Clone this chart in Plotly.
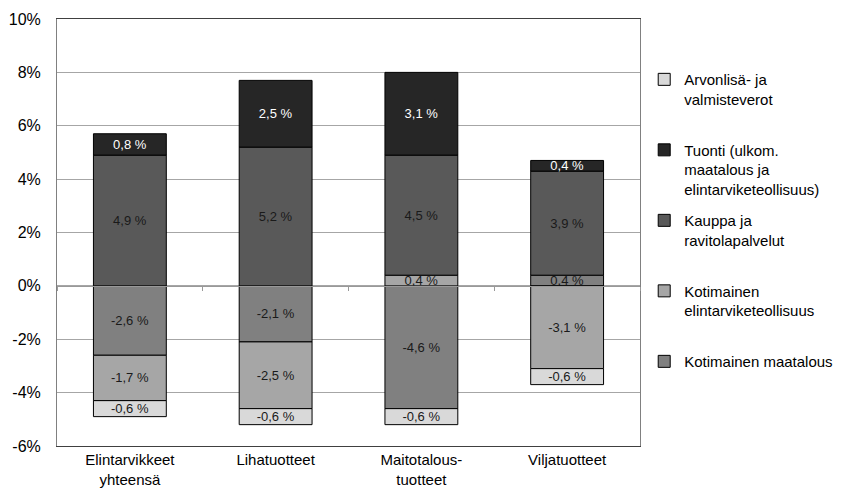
import plotly.graph_objects as go

categories = ["Elintarvikkeet<br>yhteensä", "Lihatuotteet", "Maitotalous-<br>tuotteet", "Viljatuotteet"]

# contribution to the price change, %
maatalous = [-2.6, -2.1, -4.6, 0.4]
teollisuus = [-1.7, -2.5, 0.4, -3.1]
kauppa = [4.9, 5.2, 4.5, 3.9]
tuonti = [0.8, 2.5, 3.1, 0.4]
verot = [-0.6, -0.6, -0.6, -0.6]

y_ticks = [-6, -4, -2, 0, 2, 4, 6, 8, 10]

FONT = "Arial, Liberation Sans, sans-serif"
PAD = "<br> "

# stacking order bottom-up; legend shown top-down in reverse
series = [
    ("Kotimainen maatalous", maatalous, "#808080", "#1a1a1a"),
    ("Kotimainen<br>elintarviketeollisuus" + PAD, teollisuus, "#a6a6a6", "#1a1a1a"),
    ("Kauppa ja<br>ravitolapalvelut" + PAD, kauppa, "#595959", "#1a1a1a"),
    ("Tuonti (ulkom.<br>maatalous ja<br>elintarviketeollisuus)", tuonti, "#262626", "#ffffff"),
    ("Arvonlisä- ja<br>valmisteverot" + PAD, verot, "#d9d9d9", "#1a1a1a"),
]


def fmt(v):
    return f"{v:.1f} %".replace(".", ",")


fig = go.Figure()
for i, (name, vals, color, tcolor) in enumerate(series):
    fig.add_trace(
        go.Bar(
            x=categories,
            y=vals,
            name=name,
            legendgroup=str(i),
            legendrank=len(series) - i,
            marker=dict(color=color, line=dict(color="#000000", width=1)),
            text=[fmt(v) for v in vals],
            textposition="inside",
            insidetextanchor="middle",
            textfont=dict(color=tcolor, size=13, family=FONT),
            hovertemplate="%{x}: %{text}<extra></extra>",
        )
    )

# zero axis with tick marks between categories
fig.add_trace(
    go.Scatter(
        x=categories,
        y=[0] * len(categories),
        xaxis="x2",
        mode="markers",
        marker=dict(opacity=0),
        showlegend=False,
        hoverinfo="skip",
    )
)

fig.update_layout(
    width=851,
    height=493,
    barmode="relative",
    bargap=0.5,
    plot_bgcolor="white",
    paper_bgcolor="white",
    font=dict(family=FONT, size=15, color="#000000"),
    margin=dict(l=57, r=211, t=19, b=47, autoexpand=False),
    uniformtext=dict(minsize=13, mode="show"),
    xaxis=dict(
        type="category",
        showline=True,
        linecolor="#404040",
        linewidth=1,
        mirror=True,
        ticks="",
        showgrid=False,
        automargin=False,
        tickfont=dict(size=15),
    ),
    xaxis2=dict(
        type="category",
        overlaying="x",
        matches="x",
        anchor="free",
        position=0.375,
        showline=True,
        linecolor="#999999",
        linewidth=1,
        tickson="boundaries",
        ticks="outside",
        ticklen=4,
        tickcolor="#999999",
        showticklabels=False,
        showgrid=False,
        automargin=False,
    ),
    yaxis=dict(
        range=[-6, 10],
        tickvals=y_ticks,
        ticktext=[f"{v}%" for v in y_ticks],
        showline=True,
        linecolor="#808080",
        mirror=True,
        gridcolor="#a6a6a6",
        gridwidth=1,
        zeroline=False,
        ticks="",
        ticklabelstandoff=12,
        automargin=False,
        tickfont=dict(size=16),
    ),
    legend=dict(
        traceorder="grouped",
        tracegroupgap=9,
        valign="top",
        xref="container",
        yref="container",
        x=0.757,
        y=0.872,
        xanchor="left",
        yanchor="top",
        maxheight=420,
        font=dict(size=15),
        itemwidth=30,
        bgcolor="rgba(0,0,0,0)",
    ),
    showlegend=True,
)

# drop the page's default body margin so the chart sits at the window corner
fig.write_html(
    "out.html",
    config={"displayModeBar": False},
    post_script="document.body.style.margin = '0';",
)
